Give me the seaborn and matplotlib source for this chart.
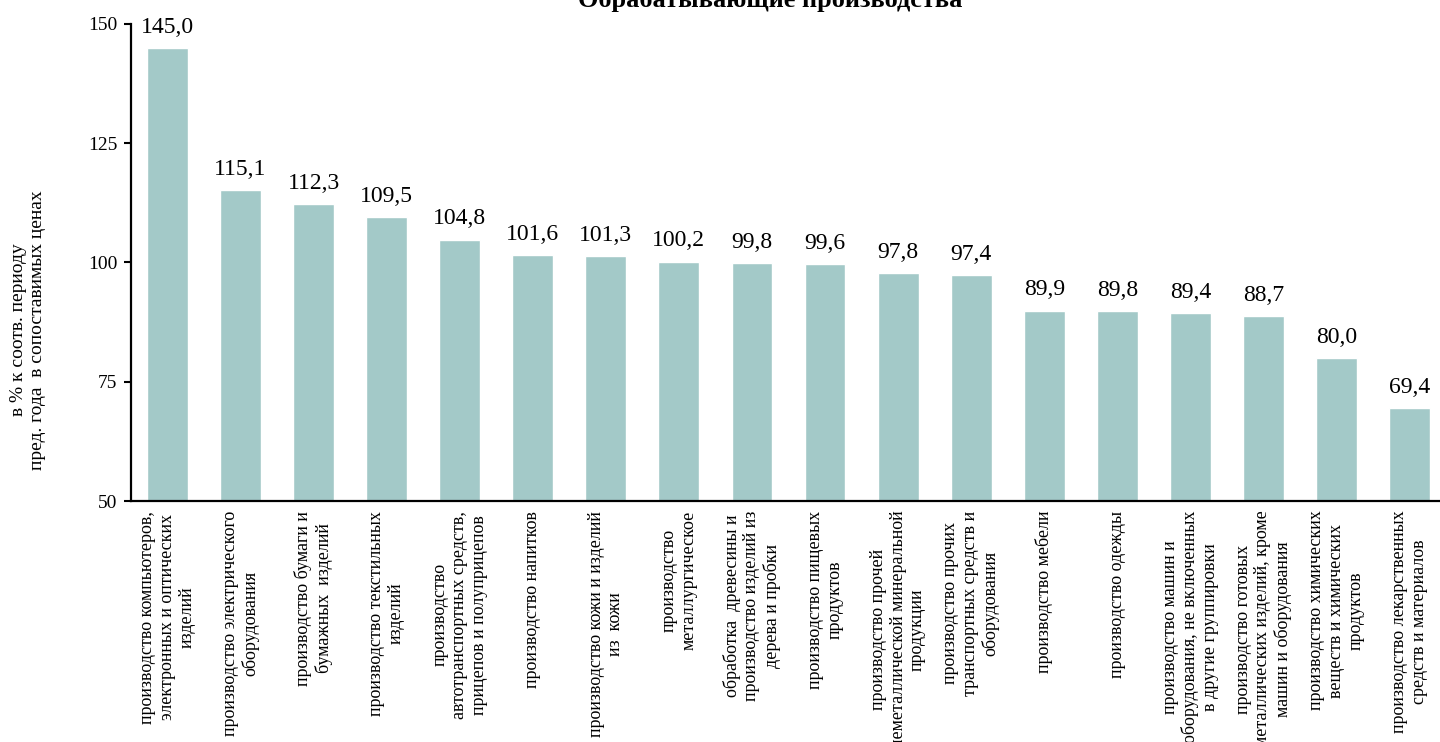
import numpy as np
import pandas as pd
import matplotlib
matplotlib.use('Agg')
import matplotlib.pyplot as plt
import seaborn as sns

# data
categories = [
    'производство компьютеров,\nэлектронных и оптических\nизделий',
    'производство электрического\nоборудования',
    'производство бумаги и\nбумажных  изделий',
    'производство текстильных\nизделий',
    'производство\nавтотранспортных средств,\nприцепов и полуприцепов',
    'производство напитков',
    'производство кожи и изделий\nиз  кожи',
    'производство\nметаллургическое',
    'обработка  древесины и\nпроизводство изделий из\nдерева и пробки',
    'производство пищевых\nпродуктов',
    'производство прочей\nнеметаллической минеральной\nпродукции',
    'производство прочих\nтранспортных средств и\nоборудования',
    'производство мебели',
    'производство одежды',
    'производство машин и\nоборудования, не включенных\nв другие группировки',
    'производство готовых\nметаллических изделий, кроме\nмашин и оборудования',
    'производство химических\nвеществ и химических\nпродуктов',
    'производство лекарственных\nсредств и материалов',
]
values = [145.0, 115.1, 112.3, 109.5, 104.8, 101.6, 101.3, 100.2, 99.8,
          99.6, 97.8, 97.4, 89.9, 89.8, 89.4, 88.7, 80.0, 69.4]
yticks = [50, 75, 100, 125, 150]
title = 'Обрабатывающие производства'
ylabel = 'в % к соотв. периоду\nпред. года  в сопоставимых ценах'

df = pd.DataFrame({'cat': categories, 'val': values})

sns.set_style('white')
plt.rcParams['font.family'] = ['Liberation Serif', 'DejaVu Serif']
plt.rcParams['text.color'] = 'black'
plt.rcParams['xtick.color'] = 'black'
plt.rcParams['ytick.color'] = 'black'

fig = plt.figure(figsize=(14.4, 7.42), dpi=100)
ax = fig.add_axes([131 / 1440, 1 - 501 / 742, 1315 / 1440, 477 / 742])

sns.barplot(data=df, x='cat', y='val', color='#a3c9c8', saturation=1,
            width=0.56, ax=ax)

ax.set_ylim(50, 150)
ax.set_xlim(-0.5, len(values) - 0.5)
ax.set_yticks(yticks)
ax.set_yticklabels([str(t) for t in yticks], fontsize=14)

# labels at bar centres (minor), tick marks at category borders (major)
centers = np.arange(len(values))
ax.set_xticks(np.arange(-0.5, len(values), 1))
ax.set_xticklabels([])
ax.set_xticks(centers, minor=True)
ax.set_xticklabels(categories, minor=True, rotation=90, fontsize=13,
                   ha='center', va='top')
for t in ax.get_xticklabels(minor=True):
    t.set_multialignment('center')
    t.set_linespacing(1.2)

ax.tick_params(axis='x', which='major', direction='out', length=5, width=1.5, color='black')
ax.tick_params(axis='x', which='minor', direction='out', length=3, width=1.2,
               color='black', pad=4)
ax.tick_params(axis='y', direction='out', length=5, width=1.5, color='black',
               left=True, pad=5)

sns.despine(ax=ax)
for s in ['left', 'bottom']:
    ax.spines[s].set_color('black')
    ax.spines[s].set_linewidth(1.6)

ax.set_xlabel('')
ax.set_ylabel('')

for i, v in enumerate(values):
    ax.annotate(f'{v:.1f}'.replace('.', ','), (i, v), xytext=(0, 11),
                textcoords='offset points', ha='center', va='baseline',
                fontsize=17)

fig.text(770 / 1440, 1 - 7 / 742, title, ha='center', va='baseline',
         fontsize=19, fontweight='bold')
fig.text(28 / 1440, 1 - 330 / 742, ylabel, rotation=90, ha='center',
         va='center', fontsize=14, multialignment='center')

fig.savefig('out.png', dpi=100)
